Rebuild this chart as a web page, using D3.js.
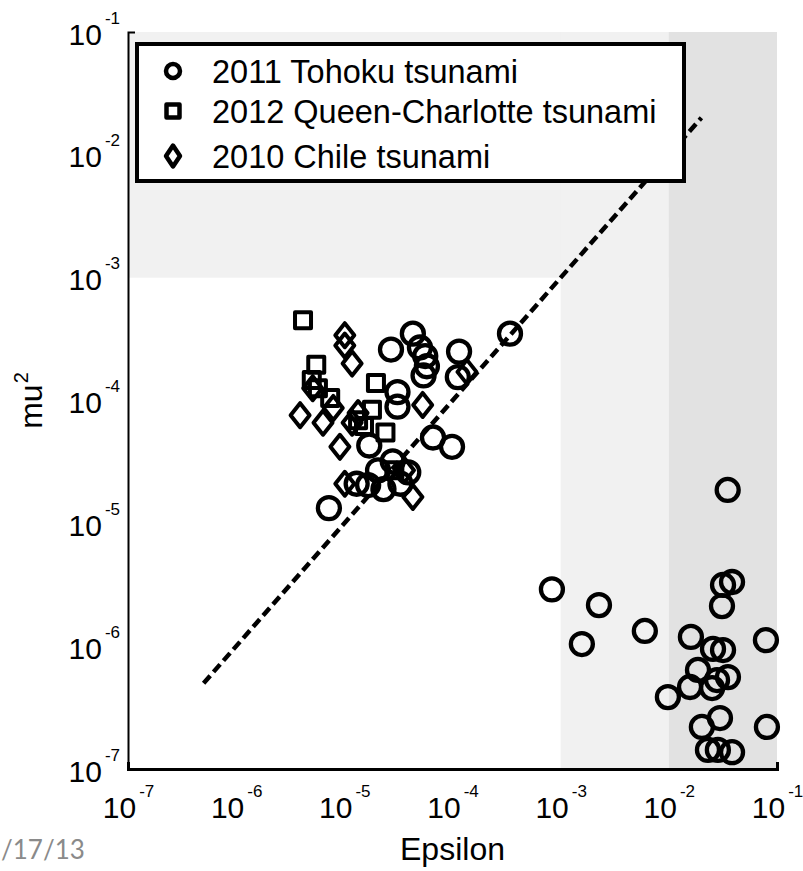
<!DOCTYPE html>
<html>
<head>
<meta charset="utf-8">
<script src="https://cdn.jsdelivr.net/npm/d3@7"></script>
<style>
  html, body { margin: 0; padding: 0; background: #fff; }
  svg { display: block; }
  text { font-family: "Liberation Sans", Arial, Helvetica, sans-serif; fill: #000; }
</style>
</head>
<body>
<svg id="chart" width="803" height="871"></svg>
<script>
// ---- data -------------------------------------------------------------
const tohokuEps = [7.2e-6, 4.3e-5, 2.7e-5, 5.0e-5, 5.6e-5, 5.8e-5, 5.4e-5, 1.15e-4, 1.12e-4, 3.4e-4,
  3.1e-5, 3.1e-5, 6.6e-5, 9.9e-5, 1.7e-5, 1.3e-5, 2.05e-5, 2.8e-5, 3.9e-5, 3.3e-5, 2.3e-5, 1.66e-5,
  0.035, 8.3e-4, 2.26e-3, 1.57e-3, 6.0e-3, 0.016, 0.079, 0.0317, 0.0384, 0.031, 0.0256, 0.0317,
  0.0186, 0.0352, 0.0279, 0.0157, 0.0251, 0.0098, 0.0297, 0.0202, 0.0807, 0.023, 0.0284, 0.0384];
const tohokuMu2 = [1.33e-5, 3.5e-4, 2.6e-4, 2.7e-4, 2.3e-4, 1.9e-4, 1.6e-4, 2.5e-4, 1.55e-4, 3.5e-4,
  1.17e-4, 8.9e-5, 5.0e-5, 4.2e-5, 4.3e-5, 2.1e-5, 2.7e-5, 3.2e-5, 2.6e-5, 2.1e-5, 1.9e-5, 2.05e-5,
  1.87e-5, 2.9e-6, 2.16e-6, 1.04e-6, 1.33e-6, 1.19e-6, 1.12e-6, 3.15e-6, 3.33e-6, 2.12e-6, 9.5e-7, 9.3e-7,
  6.4e-7, 5.6e-7, 5.3e-7, 4.65e-7, 4.56e-7, 3.85e-7, 2.6e-7, 2.2e-7, 2.2e-7, 1.43e-7, 1.43e-7, 1.37e-7];

const queenEps = [4.15e-6, 5.5e-6, 5.0e-6, 5.7e-6, 1.96e-5, 2.4e-5, 1.8e-5, 1.34e-5, 7.4e-6, 2.9e-5, 1.52e-5];
const queenMu2 = [4.5e-4, 1.95e-4, 1.47e-4, 1.26e-4, 1.39e-4, 5.5e-5, 8.4e-5, 6.9e-5, 1.05e-4, 2.7e-5, 6.2e-5];

const chileEps = [1.01e-5, 1.01e-5, 1.18e-5, 3.9e-6, 9.1e-6, 1.01e-5, 4.3e-5, 1.36e-4, 5.3e-5,
  5.1e-6, 6.35e-6, 7.9e-6, 1.18e-5, 1.34e-5, 3.6e-5];
const chileMu2 = [3.4e-4, 2.8e-4, 2.0e-4, 7.6e-5, 4.2e-5, 2.1e-5, 1.64e-5, 1.71e-4, 9.2e-5,
  1.26e-4, 6.6e-5, 8.7e-5, 6.6e-5, 7.9e-5, 2.7e-5];

// reference line mu^2 = epsilon
const lineEps = [5e-7, 2e-2];
const lineMu2 = [5e-7, 2e-2];

// shaded regimes: [epsMin, epsMax, mu2Min, mu2Max]
const bandLight = [[1e-7, 1e-1, 1e-3, 1e-1], [1e-3, 1e-2, 1e-7, 1e-1]];
const bandDark = [[1e-2, 1e-1, 1e-7, 1e-1]];

const xTickVals = [1e-7, 1e-6, 1e-5, 1e-4, 1e-3, 1e-2, 1e-1];
const yTickVals = [1e-7, 1e-6, 1e-5, 1e-4, 1e-3, 1e-2, 1e-1];

const legendLabels = ["2011 Tohoku tsunami", "2012 Queen-Charlotte tsunami", "2010 Chile tsunami"];
const legendShapes = ["circle", "square", "diamond"];
const footerText = "/17/13";

// ---- layout -----------------------------------------------------------
const svg = d3.select("#chart");
const plotLeft = 128, plotRight = 777, plotTop = 32, plotBottom = 769;

const x = d3.scaleLog().domain([1e-7, 1e-1]).range([plotLeft, plotRight]);
const y = d3.scaleLog().domain([1e-7, 1e-1]).range([plotBottom, plotTop]);

// shaded regions
const bands = svg.append("g");
bands.selectAll("rect.light").data(bandLight).join("rect").attr("class", "light")
  .attr("x", d => x(d[0])).attr("width", d => x(d[1]) - x(d[0]))
  .attr("y", d => y(d[3])).attr("height", d => y(d[2]) - y(d[3]))
  .attr("fill", "#f1f1f1");
bands.selectAll("rect.dark").data(bandDark).join("rect").attr("class", "dark")
  .attr("x", d => x(d[0])).attr("width", d => x(d[1]) - x(d[0]))
  .attr("y", d => y(d[3])).attr("height", d => y(d[2]) - y(d[3]))
  .attr("fill", "#e2e2e2");

// marker shapes
function markerPath(shape, s) {
  if (shape === "circle") {
    const r = s.r;
    return `M${-r},0A${r},${r} 0 1,0 ${r},0A${r},${r} 0 1,0 ${-r},0Z`;
  }
  if (shape === "square") {
    const h = s.h;
    return `M${-h},${-h}H${h}V${h}H${-h}Z`;
  }
  return `M0,${-s.dy}L${s.dx},0L0,${s.dy}L${-s.dx},0Z`;
}
const plotSize = { r: 11, h: 8, dx: 9.5, dy: 12 };

function drawSeries(epsArr, muArr, shape) {
  const pts = epsArr.map((e, i) => [e, muArr[i]]);
  svg.append("g").selectAll("path").data(pts).join("path")
    .attr("transform", d => `translate(${x(d[0])},${y(d[1])})`)
    .attr("d", markerPath(shape, plotSize))
    .attr("fill", "none").attr("stroke", "#000")
    .attr("stroke-width", shape === "circle" ? 4.3 : 4)
    .attr("stroke-linejoin", "round");
}
drawSeries(tohokuEps, tohokuMu2, "circle");
drawSeries(queenEps, queenMu2, "square");
drawSeries(chileEps, chileMu2, "diamond");

// dashed reference line
svg.append("path")
  .datum(lineEps.map((e, i) => [e, lineMu2[i]]))
  .attr("d", d3.line().x(d => x(d[0])).y(d => y(d[1])))
  .attr("fill", "none").attr("stroke", "#000")
  .attr("stroke-width", 4.5).attr("stroke-dasharray", "10,5");

// axes
const xAxis = d3.axisBottom(x).tickValues(xTickVals).tickSizeInner(0).tickSizeOuter(-7)
  .tickPadding(0).tickFormat(() => "");
const yAxis = d3.axisLeft(y).tickValues(yTickVals).tickSizeInner(0).tickSizeOuter(-7)
  .tickPadding(0).tickFormat(() => "");

const gx = svg.append("g").attr("transform", `translate(0,${plotBottom})`).call(xAxis);
const gy = svg.append("g").attr("transform", `translate(${plotLeft},0)`).call(yAxis);
gx.select(".domain").attr("stroke", "#000").attr("stroke-width", 3);
gy.select(".domain").attr("stroke", "#000").attr("stroke-width", 2);

const expOf = v => Math.round(Math.log10(v));

gx.selectAll(".tick text").each(function (d) {
  const t = d3.select(this).attr("y", 49).attr("dy", null)
    .attr("text-anchor", "middle").attr("font-family", null).attr("font-size", null).attr("fill", "#000");
  t.append("tspan").attr("font-size", 30).text("10");
  t.append("tspan").attr("font-size", 17).attr("dx", 3).attr("dy", -21).text(String(expOf(d)));
});
gy.selectAll(".tick text").each(function (d) {
  const t = d3.select(this).attr("x", -8).attr("dy", null).attr("y", 12)
    .attr("text-anchor", "end").attr("font-family", null).attr("font-size", null).attr("fill", "#000");
  t.append("tspan").attr("font-size", 30).text("10");
  t.append("tspan").attr("font-size", 17).attr("dx", 3).attr("dy", -21).text(String(expOf(d)));
});

// axis titles
svg.append("text").attr("x", (plotLeft + plotRight) / 2).attr("y", 860)
  .attr("text-anchor", "middle").attr("font-size", 32).text("Epsilon");

const yl = svg.append("text")
  .attr("transform", `translate(42,${(plotTop + plotBottom) / 2}) rotate(-90)`)
  .attr("text-anchor", "middle").attr("font-size", 32);
yl.append("tspan").text("mu");
yl.append("tspan").attr("font-size", 20).attr("dy", -14).attr("dx", 1).text("2");

// legend
const lg = svg.append("g");
lg.append("rect").attr("x", 137).attr("y", 44).attr("width", 547).attr("height", 137)
  .attr("fill", "#fff").attr("stroke", "#000").attr("stroke-width", 4);
const legendSize = { r: 7, h: 6.5, dx: 7, dy: 10.5 };
const rowY = [71, 111, 156];
legendLabels.forEach((label, i) => {
  lg.append("path")
    .attr("transform", `translate(173,${rowY[i]})`)
    .attr("d", markerPath(legendShapes[i], legendSize))
    .attr("fill", "none").attr("stroke", "#000").attr("stroke-width", 4.5)
    .attr("stroke-linejoin", "round");
  lg.append("text").attr("x", 212).attr("y", rowY[i] + 11.5)
    .attr("font-size", 32.5).text(label);
});

// footer
svg.append("text").attr("x", 1).attr("y", 859)
  .style("font-family", "Lato, 'Open Sans', sans-serif")
  .attr("font-size", 26).style("fill", "#8a8a8a").text(footerText);
</script>
</body>
</html>
